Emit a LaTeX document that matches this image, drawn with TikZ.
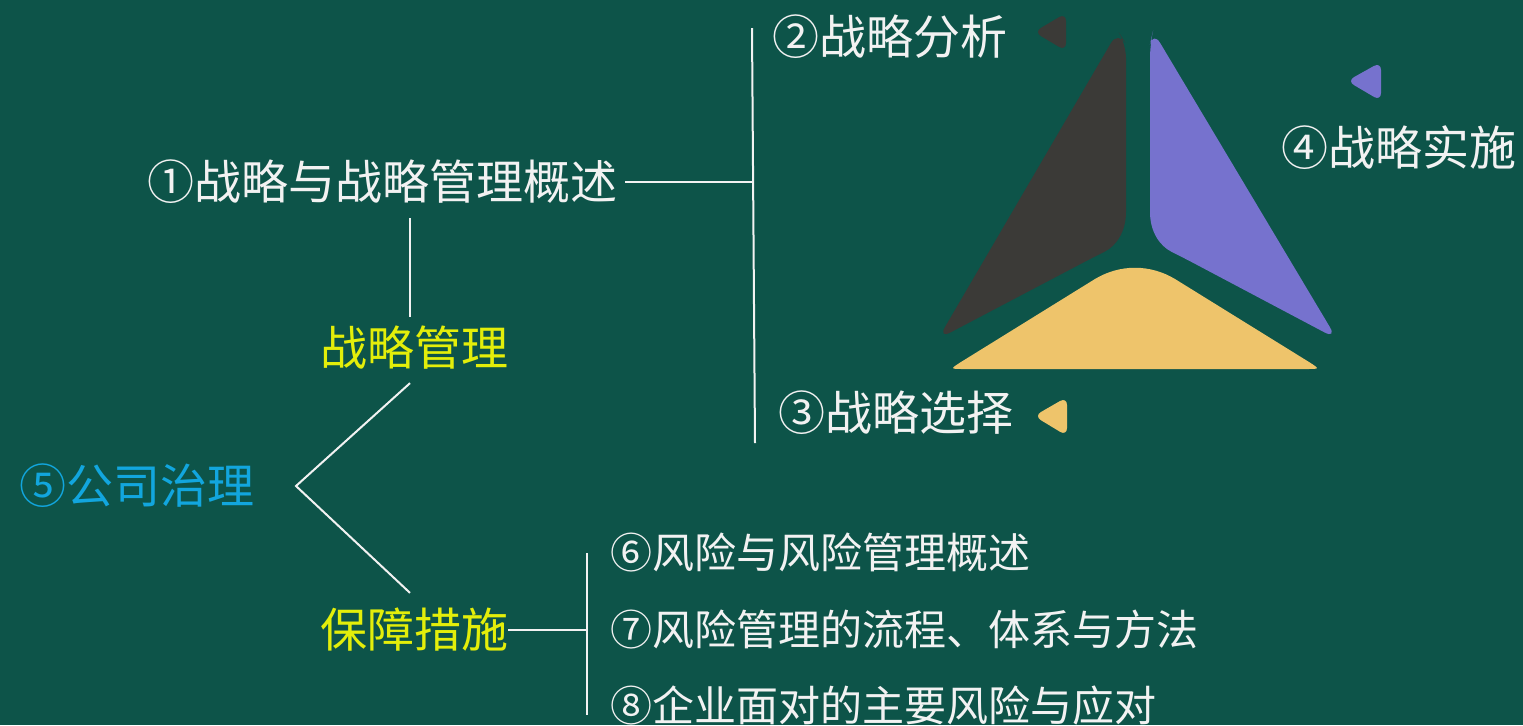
\documentclass[tikz,border=0pt]{standalone}
\usepackage{fontspec}
\setmainfont{Noto Sans CJK SC}
\usetikzlibrary{calc}
\definecolor{board}{HTML}{0D5449}
\definecolor{chalk}{HTML}{F2F2F2}
\definecolor{lime}{HTML}{E3EE0A}
\definecolor{sky}{HTML}{12A6DE}
\definecolor{charcoal}{HTML}{3B3A37}
\definecolor{lilac}{HTML}{7672CE}
\definecolor{sand}{HTML}{EEC46B}

\begin{document}
\begin{tikzpicture}[x=0.5pt,y=-0.5pt,
  txt/.style={inner sep=0pt,text=chalk,font=\fontsize{23.5}{26}\selectfont},
  sub/.style={inner sep=0pt,text=chalk,font=\fontsize{21}{24}\selectfont},
  key/.style={inner sep=0pt,text=lime,font=\fontsize{23.5}{26}\selectfont},
  wire/.style={draw=chalk,line width=1pt}]
\fill[board] (0,0) rectangle (1523,725);
\useasboundingbox (0,0) rectangle (1523,725);

% the three pieces
\fill[charcoal,rounded corners=7] (1118,31) -- (1126,44) -- (1126,198)
  .. controls (1126,232) and (1116,246) .. (1092,258) -- (938,339) -- cycle;
\fill[lilac,rounded corners=7] (1153,31) -- (1337,339) -- (1184,258)
  .. controls (1160,246) and (1150,232) .. (1150,198) -- (1150,44) -- cycle;
\fill[sand] (1135,369) -- (964,369) .. controls (950,369) .. (961,362)
  -- (1095,279) .. controls (1120,264) and (1150,264) .. (1175,279)
  -- (1309,362) .. controls (1320,369) .. (1306,369) -- cycle;

% small markers
\fill[charcoal,rounded corners=4] (1034,32) -- (1066,13) -- (1066,51) -- cycle;
\fill[lilac,rounded corners=4] (1347,81) -- (1381,62) -- (1381,101) -- cycle;
\fill[sand,rounded corners=4] (1034,416) -- (1067,397) -- (1067,436) -- cycle;

% texts
\node[txt,anchor=east] (over) at (618,182) {①战略与战略管理概述};
\node[txt,anchor=west] (ana) at (772,37) {②战略分析};
\node[txt,anchor=west] (sel) at (778,413) {③战略选择};
\node[txt,anchor=east] (imp) at (1517,148) {④战略实施};
\node[key] (sm) at (414,348) {战略管理};
\node[txt,text=sky,anchor=east] (gov) at (255,486) {⑤公司治理};
\node[key] (bz) at (414,630) {保障措施};
\node[sub,anchor=west] (r6) at (610,553) {⑥风险与风险管理概述};
\node[sub,anchor=west] (r7) at (610,630) {⑦风险管理的流程、体系与方法};
\node[sub,anchor=west] (r8) at (610,705) {⑧企业面对的主要风险与应对};

% lines
\coordinate (sTop) at (752,28);
\coordinate (sBot) at (755,443);
\coordinate (fork) at (296,486);
\coordinate (rTop) at (587,553);
\coordinate (rBot) at (587,715);
\draw[wire] (sTop) -- (sBot);
\draw[wire] ($(over.east)+(7,0)$) -- (over.east -| sTop);
\draw[wire] ($(sm.north |- over.south)+(-4,14)$) -- ($(sm.north)+(-4,-9)$);
\draw[wire] ($(sm.south)+(-4,13)$) -- (fork) -- ($(bz.north)+(-4,-15)$);
\draw[wire] (rTop) -- (rBot);
\draw[wire] (bz.east) -- (bz.east -| rTop);
\end{tikzpicture}
\end{document}
